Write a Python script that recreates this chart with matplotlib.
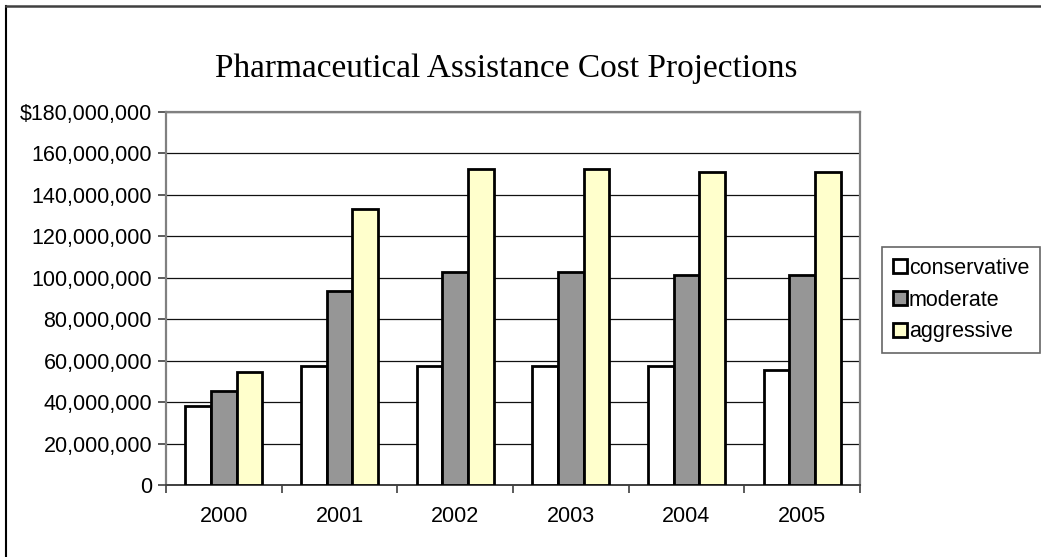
import numpy as np
import matplotlib.pyplot as plt
from matplotlib.lines import Line2D

# Datos (en millones de dolares)
years = ['2000', '2001', '2002', '2003', '2004', '2005']
conservative = [38.3, 57.6, 57.6, 57.6, 57.6, 55.6]
moderate = [45.5, 93.8, 102.7, 102.7, 101.2, 101.2]
aggressive = [54.5, 133.2, 152.4, 152.4, 150.9, 150.9]
series_names = ['conservative', 'moderate', 'aggressive']
series_colors = ['#FFFFFF', '#969696', '#FFFFCC']
y_ticks = [0, 20, 40, 60, 80, 100, 120, 140, 160, 180]
y_tick_labels = ['0', '20,000,000', '40,000,000', '60,000,000', '80,000,000',
                 '100,000,000', '120,000,000', '140,000,000', '160,000,000',
                 '$180,000,000']

W, H = 1041, 557
fig = plt.figure(figsize=(W / 100, H / 100), dpi=100)
ax = fig.add_axes([166 / W, 1 - 485 / H, (860 - 166) / W, (485 - 112) / H])

x = np.arange(len(years))
bw = 0.222
all_series = [conservative, moderate, aggressive]
for i, (vals, name, col) in enumerate(zip(all_series, series_names, series_colors)):
    ax.bar(x + (i - 1) * bw, np.array(vals) * 1e6, width=bw, color=col,
           edgecolor='black', linewidth=2.0, label=name, zorder=3)

ax.set_xlim(-0.5, len(years) - 0.5)
ax.set_ylim(0, 180e6)

# eje y
ax.set_yticks(np.array(y_ticks) * 1e6)
ax.set_yticklabels(y_tick_labels, fontfamily='Liberation Sans', fontsize=15.5)
ax.tick_params(axis='y', direction='out', length=6, width=1.2, color='#404040', pad=4)
ax.yaxis.grid(True, color='#111111', linewidth=0.9, zorder=0)

# eje x: marcas entre categorias, etiquetas centradas
ax.set_xticks(np.arange(len(years) + 1) - 0.5)
ax.set_xticklabels([])
ax.set_xticks(x, minor=True)
ax.set_xticklabels(years, minor=True, fontfamily='Liberation Sans', fontsize=15.5)
ax.tick_params(axis='x', which='major', direction='out', length=6, width=1.2, color='#404040')
ax.tick_params(axis='x', which='minor', length=0, pad=15)

for s in ['top', 'right', 'left']:
    ax.spines[s].set_color('#808080')
    ax.spines[s].set_linewidth(1.6)
ax.spines['bottom'].set_color('#404040')
ax.spines['bottom'].set_linewidth(1.4)

# titulo
fig.text(506 / W, 1 - 77 / H, 'Pharmaceutical Assistance Cost Projections',
         ha='center', va='baseline', fontfamily='Liberation Serif', fontsize=24)

# leyenda
leg = fig.legend(loc='upper left', bbox_to_anchor=(882 / W, 1 - 247 / H),
                 prop={'family': 'Liberation Sans', 'size': 15.5},
                 frameon=True, fancybox=False, edgecolor='#404040',
                 handlelength=0.65, handleheight=0.65, handletextpad=0.1,
                 labelspacing=0.5, borderpad=0.5, borderaxespad=0)
leg.get_frame().set_linewidth(1.2)
for p in leg.get_patches():
    p.set_linewidth(2.0)

# borde exterior del grafico
fig.add_artist(Line2D([6 / W, 6 / W], [0, 1 - 6 / H], transform=fig.transFigure,
                      color='black', linewidth=1.5))
fig.add_artist(Line2D([6 / W, 1], [1 - 6 / H, 1 - 6 / H], transform=fig.transFigure,
                      color='#404040', linewidth=1.8))

fig.savefig('out.png', dpi=100)
